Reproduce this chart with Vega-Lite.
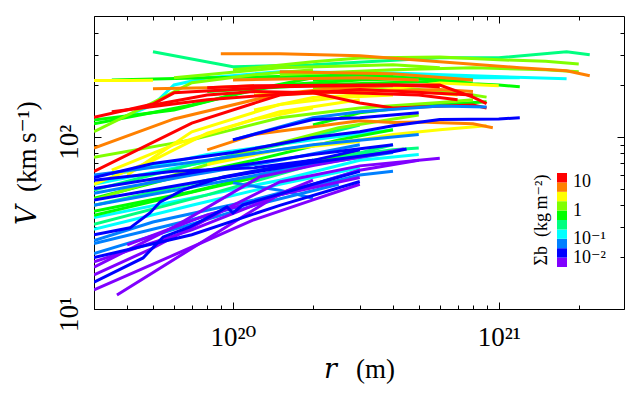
{
  "$schema": "https://vega.github.io/schema/vega-lite/v6.json",
  "width": 530,
  "height": 293,
  "autosize": "none",
  "padding": {"left": 94, "top": 16, "right": 16, "bottom": 88},
  "background": "white",
  "data": {"values": [
    {"c":"C1","s":-0.83,"r":3.5e19,"v":122},{"c":"C1","s":-0.83,"r":5e19,"v":153},{"c":"C1","s":-0.83,"r":6e19,"v":200},{"c":"C1","s":-0.83,"r":8e19,"v":220},{"c":"C1","s":-0.83,"r":1.5e20,"v":239},{"c":"C1","s":-0.83,"r":4e20,"v":235},{"c":"C1","s":-0.83,"r":8e20,"v":226},{"c":"C1","s":-0.83,"r":1.8e21,"v":217},
    {"c":"T2","s":-0.83,"r":1.5e20,"v":220},{"c":"T2","s":-0.83,"r":4e20,"v":226},{"c":"T2","s":-0.83,"r":8e20,"v":220},{"c":"T2","s":-0.83,"r":1.2e21,"v":220},
    {"c":"C2","s":-0.83,"r":3e19,"v":34},{"c":"C2","s":-0.83,"r":8e19,"v":46},{"c":"C2","s":-0.83,"r":1.5e20,"v":56},{"c":"C2","s":-0.83,"r":3e20,"v":73},{"c":"C2","s":-0.83,"r":5e20,"v":79},
    {"c":"C3","s":-0.83,"r":3e19,"v":53},{"c":"C3","s":-0.83,"r":7e19,"v":69},{"c":"C3","s":-0.83,"r":1.5e20,"v":84},{"c":"C3","s":-0.83,"r":3e20,"v":96},
    {"c":"C4","s":-0.83,"r":3.5e19,"v":60},{"c":"C4","s":-0.83,"r":8e19,"v":79},{"c":"C4","s":-0.83,"r":2e20,"v":96},{"c":"C4","s":-0.83,"r":4e20,"v":110},
    {"c":"M2","s":-0.83,"r":3e19,"v":29},{"c":"M2","s":-0.83,"r":7e19,"v":40},{"c":"M2","s":-0.83,"r":1.5e20,"v":53},{"c":"M2","s":-0.83,"r":3e20,"v":66},
    {"c":"SG1","s":-0.5,"r":5e19,"v":312},{"c":"SG1","s":-0.5,"r":1e20,"v":255},{"c":"SG1","s":-0.5,"r":2e20,"v":262},{"c":"SG1","s":-0.5,"r":6e20,"v":288},{"c":"SG1","s":-0.5,"r":1e21,"v":288},{"c":"SG1","s":-0.5,"r":1.8e21,"v":312},{"c":"SG1","s":-0.5,"r":2.2e21,"v":300},
    {"c":"SG2","s":-0.5,"r":3e19,"v":31},{"c":"SG2","s":-0.5,"r":8e19,"v":46},{"c":"SG2","s":-0.5,"r":2e20,"v":69},{"c":"SG2","s":-0.5,"r":4e20,"v":90},
    {"c":"SG3","s":-0.5,"r":3e19,"v":49},{"c":"SG3","s":-0.5,"r":7e19,"v":69},{"c":"SG3","s":-0.5,"r":1.5e20,"v":90},{"c":"SG3","s":-0.5,"r":3e20,"v":117},
    {"c":"M1","s":-0.5,"r":3e19,"v":40},{"c":"M1","s":-0.5,"r":8e19,"v":56},{"c":"M1","s":-0.5,"r":2e20,"v":73},{"c":"M1","s":-0.5,"r":4e20,"v":84},{"c":"M1","s":-0.5,"r":5e20,"v":86},
    {"c":"G1","s":-0.17,"r":3e19,"v":125},{"c":"G1","s":-0.17,"r":6e19,"v":143},{"c":"G1","s":-0.17,"r":1e20,"v":175},{"c":"G1","s":-0.17,"r":1.5e20,"v":200},{"c":"G1","s":-0.17,"r":3e20,"v":214},{"c":"G1","s":-0.17,"r":6e20,"v":220},
    {"c":"G2","s":-0.17,"r":2e20,"v":214},{"c":"G2","s":-0.17,"r":4e20,"v":223},{"c":"G2","s":-0.17,"r":6e20,"v":214},{"c":"G2","s":-0.17,"r":8e20,"v":203},{"c":"G2","s":-0.17,"r":1e21,"v":200},{"c":"G2","s":-0.17,"r":1.2e21,"v":195},
    {"c":"G3","s":-0.17,"r":2e20,"v":117},{"c":"G3","s":-0.17,"r":3e20,"v":138},{"c":"G3","s":-0.17,"r":5e20,"v":151},{"c":"G3","s":-0.17,"r":9e20,"v":160},
    {"c":"G4","s":-0.17,"r":3e19,"v":119},{"c":"G4","s":-0.17,"r":7e19,"v":153},{"c":"G4","s":-0.17,"r":1.2e20,"v":188},{"c":"G4","s":-0.17,"r":2e20,"v":220},{"c":"G4","s":-0.17,"r":3e20,"v":232},
    {"c":"G5","s":-0.17,"r":3e19,"v":44},{"c":"G5","s":-0.17,"r":6e19,"v":58},{"c":"G5","s":-0.17,"r":1.2e20,"v":73},{"c":"G5","s":-0.17,"r":2.5e20,"v":96},{"c":"G5","s":-0.17,"r":4e20,"v":110},
    {"c":"G6","s":-0.17,"r":3e19,"v":37},{"c":"G6","s":-0.17,"r":7e19,"v":48},{"c":"G6","s":-0.17,"r":1.5e20,"v":64},{"c":"G6","s":-0.17,"r":3e20,"v":84},
    {"c":"G7","s":-0.17,"r":3.5e19,"v":214},{"c":"G7","s":-0.17,"r":8e19,"v":220},{"c":"G7","s":-0.17,"r":2e20,"v":226},{"c":"G7","s":-0.17,"r":4e20,"v":229},
    {"c":"T1","s":-0.17,"r":8e19,"v":183},{"c":"T1","s":-0.17,"r":2e20,"v":200},{"c":"T1","s":-0.17,"r":5e20,"v":209},{"c":"T1","s":-0.17,"r":8e20,"v":214},
    {"c":"M3","s":-0.17,"r":3e19,"v":35},{"c":"M3","s":-0.17,"r":8e19,"v":50},{"c":"M3","s":-0.17,"r":2e20,"v":69},
    {"c":"YG1","s":0.17,"r":1e20,"v":245},{"c":"YG1","s":0.17,"r":2e20,"v":273},{"c":"YG1","s":0.17,"r":3e20,"v":287},{"c":"YG1","s":0.17,"r":6e20,"v":291},{"c":"YG1","s":0.17,"r":1e21,"v":280},{"c":"YG1","s":0.17,"r":1.5e21,"v":275},{"c":"YG1","s":0.17,"r":2e21,"v":265},
    {"c":"YG2","s":0.17,"r":1.5e20,"v":229},{"c":"YG2","s":0.17,"r":4e20,"v":245},{"c":"YG2","s":0.17,"r":8e20,"v":252},{"c":"YG2","s":0.17,"r":1.5e21,"v":245},{"c":"YG2","s":0.17,"r":2e21,"v":239},
    {"c":"YG3","s":0.17,"r":3e19,"v":107},{"c":"YG3","s":0.17,"r":5e19,"v":158},{"c":"YG3","s":0.17,"r":7e19,"v":206},{"c":"YG3","s":0.17,"r":1.2e20,"v":229},{"c":"YG3","s":0.17,"r":2e20,"v":245},
    {"c":"YG4","s":0.17,"r":3e19,"v":76},{"c":"YG4","s":0.17,"r":7e19,"v":96},{"c":"YG4","s":0.17,"r":1.5e20,"v":129},{"c":"YG4","s":0.17,"r":3e20,"v":147},{"c":"YG4","s":0.17,"r":6e20,"v":158},{"c":"YG4","s":0.17,"r":8e20,"v":164},
    {"c":"YG5","s":0.17,"r":3e19,"v":43},{"c":"YG5","s":0.17,"r":6e19,"v":60},{"c":"YG5","s":0.17,"r":1.2e20,"v":84},{"c":"YG5","s":0.17,"r":2.5e20,"v":113},{"c":"YG5","s":0.17,"r":5e20,"v":134},
    {"c":"YG6","s":0.17,"r":6e19,"v":220},{"c":"YG6","s":0.17,"r":1.5e20,"v":252},{"c":"YG6","s":0.17,"r":4e20,"v":262},{"c":"YG6","s":0.17,"r":6e20,"v":252},
    {"c":"T5","s":0.17,"r":2e20,"v":193},{"c":"T5","s":0.17,"r":5e20,"v":188},{"c":"T5","s":0.17,"r":8e20,"v":175},{"c":"T5","s":0.17,"r":9e20,"v":170},
    {"c":"Y1","s":0.5,"r":3e19,"v":212},{"c":"Y1","s":0.5,"r":4e19,"v":212},{"c":"Y1","s":0.5,"r":5e19,"v":213},
    {"c":"Y2","s":0.5,"r":2.5e20,"v":170},{"c":"Y2","s":0.5,"r":4e20,"v":190},{"c":"Y2","s":0.5,"r":6e20,"v":205},{"c":"Y2","s":0.5,"r":1e21,"v":198},
    {"c":"Y3","s":0.5,"r":2e20,"v":90},{"c":"Y3","s":0.5,"r":3e20,"v":96},{"c":"Y3","s":0.5,"r":4e20,"v":103},{"c":"Y3","s":0.5,"r":6e20,"v":110},{"c":"Y3","s":0.5,"r":9e20,"v":116},
    {"c":"Y4","s":0.5,"r":4e19,"v":60},{"c":"Y4","s":0.5,"r":7e19,"v":107},{"c":"Y4","s":0.5,"r":1.5e20,"v":154},{"c":"Y4","s":0.5,"r":2.5e20,"v":169},{"c":"Y4","s":0.5,"r":4e20,"v":175},
    {"c":"Y5","s":0.5,"r":1.2e20,"v":143},{"c":"Y5","s":0.5,"r":2e20,"v":169},{"c":"Y5","s":0.5,"r":3e20,"v":175},
    {"c":"Y6","s":0.5,"r":3e19,"v":53},{"c":"Y6","s":0.5,"r":5e19,"v":73},{"c":"Y6","s":0.5,"r":8e19,"v":105},{"c":"Y6","s":0.5,"r":1.5e20,"v":140},{"c":"Y6","s":0.5,"r":3e20,"v":164},
    {"c":"Y7","s":0.5,"r":3.5e19,"v":64},{"c":"Y7","s":0.5,"r":6e19,"v":90},{"c":"Y7","s":0.5,"r":1.2e20,"v":126},{"c":"Y7","s":0.5,"r":2e20,"v":147},
    {"c":"T3","s":0.5,"r":1.2e20,"v":175},{"c":"T3","s":0.5,"r":3e20,"v":188},{"c":"T3","s":0.5,"r":5e20,"v":183},{"c":"T3","s":0.5,"r":7e20,"v":175},
    {"c":"M6","s":0.5,"r":8e19,"v":69},{"c":"M6","s":0.5,"r":1.5e20,"v":84},{"c":"M6","s":0.5,"r":3e20,"v":94},
    {"c":"O1","s":0.83,"r":9e19,"v":304},{"c":"O1","s":0.83,"r":1.5e20,"v":304},{"c":"O1","s":0.83,"r":3e20,"v":296},{"c":"O1","s":0.83,"r":6e20,"v":273},{"c":"O1","s":0.83,"r":1.2e21,"v":252},{"c":"O1","s":0.83,"r":1.8e21,"v":242},{"c":"O1","s":0.83,"r":2.2e21,"v":226},
    {"c":"O2","s":0.83,"r":3e19,"v":86},{"c":"O2","s":0.83,"r":6e19,"v":127},{"c":"O2","s":0.83,"r":1.5e20,"v":178},{"c":"O2","s":0.83,"r":2.5e20,"v":192},{"c":"O2","s":0.83,"r":4e20,"v":198},
    {"c":"O3","s":0.83,"r":5e19,"v":190},{"c":"O3","s":0.83,"r":8e19,"v":193},{"c":"O3","s":0.83,"r":1.2e20,"v":198},
    {"c":"O4","s":0.83,"r":8e19,"v":84},{"c":"O4","s":0.83,"r":1.2e20,"v":103},{"c":"O4","s":0.83,"r":3e20,"v":124},{"c":"O4","s":0.83,"r":4e20,"v":121},{"c":"O4","s":0.83,"r":5e20,"v":122},{"c":"O4","s":0.83,"r":8e20,"v":119},{"c":"O4","s":0.83,"r":9.5e20,"v":113},
    {"c":"O5","s":0.83,"r":1.2e20,"v":174},{"c":"O5","s":0.83,"r":3e20,"v":183},{"c":"O5","s":0.83,"r":6e20,"v":188},{"c":"O5","s":0.83,"r":8e20,"v":183},
    {"c":"O6","s":0.83,"r":1.5e20,"v":239},{"c":"O6","s":0.83,"r":4e20,"v":232},{"c":"O6","s":0.83,"r":8e20,"v":214},
    {"c":"T4","s":0.83,"r":1e20,"v":214},{"c":"T4","s":0.83,"r":3e20,"v":220},{"c":"T4","s":0.83,"r":5e20,"v":214},
    {"c":"R1","s":1.17,"r":3e19,"v":130},{"c":"R1","s":1.17,"r":5e19,"v":155},{"c":"R1","s":1.17,"r":6e19,"v":180},{"c":"R1","s":1.17,"r":1.5e20,"v":195},{"c":"R1","s":1.17,"r":4e20,"v":200},{"c":"R1","s":1.17,"r":6e20,"v":195},
    {"c":"R2","s":1.17,"r":3e19,"v":63},{"c":"R2","s":1.17,"r":7e19,"v":120},{"c":"R2","s":1.17,"r":1.5e20,"v":175},{"c":"R2","s":1.17,"r":3e20,"v":188},{"c":"R2","s":1.17,"r":8e20,"v":175},
    {"c":"R3","s":1.17,"r":5e19,"v":153},{"c":"R3","s":1.17,"r":8e19,"v":175},{"c":"R3","s":1.17,"r":1.2e20,"v":183},{"c":"R3","s":1.17,"r":2e20,"v":180},{"c":"R3","s":1.17,"r":3e20,"v":157},{"c":"R3","s":1.17,"r":4e20,"v":147},{"c":"R3","s":1.17,"r":5e20,"v":149},{"c":"R3","s":1.17,"r":8e20,"v":153},{"c":"R3","s":1.17,"r":9e20,"v":147},
    {"c":"R4","s":1.17,"r":8e19,"v":193},{"c":"R4","s":1.17,"r":1.2e20,"v":198},{"c":"R4","s":1.17,"r":3e20,"v":200},{"c":"R4","s":1.17,"r":6e20,"v":200},{"c":"R4","s":1.17,"r":8e20,"v":170},{"c":"R4","s":1.17,"r":9e20,"v":156},
    {"c":"R5","s":1.17,"r":3.5e19,"v":140},{"c":"R5","s":1.17,"r":8e19,"v":164},{"c":"R5","s":1.17,"r":2e20,"v":183},{"c":"R5","s":1.17,"r":5e20,"v":175},{"c":"R5","s":1.17,"r":7e20,"v":164},
    {"c":"A1","s":-1.17,"r":1e20,"v":96},{"c":"A1","s":-1.17,"r":2e20,"v":129},{"c":"A1","s":-1.17,"r":3e20,"v":140},{"c":"A1","s":-1.17,"r":6e20,"v":151},{"c":"A1","s":-1.17,"r":9e20,"v":149},
    {"c":"A2","s":-1.17,"r":3e19,"v":25},{"c":"A2","s":-1.17,"r":5e19,"v":32},{"c":"A2","s":-1.17,"r":1.2e20,"v":43},{"c":"A2","s":-1.17,"r":2e20,"v":53},{"c":"A2","s":-1.17,"r":3e20,"v":64},
    {"c":"A3","s":-1.17,"r":3e19,"v":21},{"c":"A3","s":-1.17,"r":6e19,"v":29},{"c":"A3","s":-1.17,"r":1.2e20,"v":40},{"c":"A3","s":-1.17,"r":2.5e20,"v":53},
    {"c":"A4","s":-1.17,"r":1e20,"v":54},{"c":"A4","s":-1.17,"r":1.5e20,"v":49},{"c":"A4","s":-1.17,"r":2e20,"v":44},
    {"c":"A5","s":-1.17,"r":3e19,"v":40},{"c":"A5","s":-1.17,"r":8e19,"v":53},{"c":"A5","s":-1.17,"r":2e20,"v":69},{"c":"A5","s":-1.17,"r":4e20,"v":81},
    {"c":"A6","s":-1.17,"r":3e19,"v":60},{"c":"A6","s":-1.17,"r":8e19,"v":73},{"c":"A6","s":-1.17,"r":2e20,"v":90},{"c":"A6","s":-1.17,"r":5e20,"v":103},
    {"c":"A7","s":-1.17,"r":3e19,"v":47},{"c":"A7","s":-1.17,"r":7e19,"v":60},{"c":"A7","s":-1.17,"r":1.5e20,"v":73},{"c":"A7","s":-1.17,"r":3e20,"v":90},
    {"c":"M4","s":-1.17,"r":3e19,"v":24},{"c":"M4","s":-1.17,"r":7e19,"v":33},{"c":"M4","s":-1.17,"r":1.5e20,"v":46},{"c":"M4","s":-1.17,"r":3e20,"v":60},{"c":"M4","s":-1.17,"r":4e20,"v":63},
    {"c":"V1","s":-1.83,"r":3.66e19,"v":12.05},{"c":"V1","s":-1.83,"r":1e20,"v":31.7},{"c":"V1","s":-1.83,"r":1.5e20,"v":46.6},{"c":"V1","s":-1.83,"r":2e20,"v":56},
    {"c":"V2","s":-1.83,"r":3e19,"v":15.8},{"c":"V2","s":-1.83,"r":5e19,"v":22.6},{"c":"V2","s":-1.83,"r":1e20,"v":40},{"c":"V2","s":-1.83,"r":1.5e20,"v":54.7},{"c":"V2","s":-1.83,"r":3e20,"v":67.8},{"c":"V2","s":-1.83,"r":6e20,"v":75},
    {"c":"V3","s":-1.83,"r":3e19,"v":17.5},{"c":"V3","s":-1.83,"r":6e19,"v":30},{"c":"V3","s":-1.83,"r":1.26e20,"v":58.5},{"c":"V3","s":-1.83,"r":2e20,"v":68},{"c":"V3","s":-1.83,"r":4.4e20,"v":85},
    {"c":"V4","s":-1.83,"r":3e19,"v":12.9},{"c":"V4","s":-1.83,"r":6e19,"v":20.6},{"c":"V4","s":-1.83,"r":1.2e20,"v":33},{"c":"V4","s":-1.83,"r":2e20,"v":43},{"c":"V4","s":-1.83,"r":3e20,"v":53},
    {"c":"V5","s":-1.83,"r":3e19,"v":18.8},{"c":"V5","s":-1.83,"r":7e19,"v":28.8},{"c":"V5","s":-1.83,"r":1.5e20,"v":46},{"c":"V5","s":-1.83,"r":3e20,"v":64},{"c":"V5","s":-1.83,"r":5e20,"v":73},
    {"c":"V6","s":-1.83,"r":4e19,"v":23.6},{"c":"V6","s":-1.83,"r":8e19,"v":35.2},{"c":"V6","s":-1.83,"r":1.5e20,"v":46},{"c":"V6","s":-1.83,"r":3e20,"v":58},
    {"c":"B1","s":-1.5,"r":3e19,"v":58},{"c":"B1","s":-1.5,"r":5e19,"v":70},{"c":"B1","s":-1.5,"r":1e20,"v":81},{"c":"B1","s":-1.5,"r":2e20,"v":99},{"c":"B1","s":-1.5,"r":3e20,"v":107},{"c":"B1","s":-1.5,"r":4e20,"v":116},{"c":"B1","s":-1.5,"r":6e20,"v":126},{"c":"B1","s":-1.5,"r":1e21,"v":127},{"c":"B1","s":-1.5,"r":1.2e21,"v":129},
    {"c":"B2","s":-1.5,"r":3e19,"v":56},{"c":"B2","s":-1.5,"r":6e19,"v":63},{"c":"B2","s":-1.5,"r":1.2e20,"v":66},{"c":"B2","s":-1.5,"r":2e20,"v":73},{"c":"B2","s":-1.5,"r":3e20,"v":84},
    {"c":"B3","s":-1.5,"r":3e19,"v":27},{"c":"B3","s":-1.5,"r":4.1e19,"v":29.6},{"c":"B3","s":-1.5,"r":4.87e19,"v":36.1},{"c":"B3","s":-1.5,"r":5.32e19,"v":41.9},{"c":"B3","s":-1.5,"r":6.49e19,"v":49.2},{"c":"B3","s":-1.5,"r":9.17e19,"v":58.5},{"c":"B3","s":-1.5,"r":2e20,"v":73},
    {"c":"B4","s":-1.5,"r":3e19,"v":14.3},{"c":"B4","s":-1.5,"r":4.59e19,"v":19.8},{"c":"B4","s":-1.5,"r":5.46e19,"v":26.2},{"c":"B4","s":-1.5,"r":6.89e19,"v":30},{"c":"B4","s":-1.5,"r":8.41e19,"v":35.2},{"c":"B4","s":-1.5,"r":9.49e19,"v":39.2},{"c":"B4","s":-1.5,"r":1e20,"v":36.1},{"c":"B4","s":-1.5,"r":1.09e20,"v":40.3},{"c":"B4","s":-1.5,"r":1.38e20,"v":44.8},{"c":"B4","s":-1.5,"r":2e20,"v":53},{"c":"B4","s":-1.5,"r":3e20,"v":63},
    {"c":"B5","s":-1.5,"r":3e19,"v":43},{"c":"B5","s":-1.5,"r":8e19,"v":56},{"c":"B5","s":-1.5,"r":2e20,"v":71},{"c":"B5","s":-1.5,"r":4e20,"v":82},{"c":"B5","s":-1.5,"r":4.5e20,"v":85},
    {"c":"B6","s":-1.5,"r":1e20,"v":96},{"c":"B6","s":-1.5,"r":1.5e20,"v":113},{"c":"B6","s":-1.5,"r":2e20,"v":126},{"c":"B6","s":-1.5,"r":3e20,"v":129},{"c":"B6","s":-1.5,"r":5e20,"v":138},
    {"c":"B7","s":-1.5,"r":3e19,"v":50},{"c":"B7","s":-1.5,"r":8e19,"v":64},{"c":"B7","s":-1.5,"r":2e20,"v":79},{"c":"B7","s":-1.5,"r":4e20,"v":90},
    {"c":"M5","s":-1.5,"r":3e19,"v":19.9},{"c":"M5","s":-1.5,"r":7e19,"v":27},{"c":"M5","s":-1.5,"r":1.5e20,"v":40},{"c":"M5","s":-1.5,"r":3e20,"v":55}
  ]},
  "resolve": {"axis": {"x": "independent", "y": "independent"}},
  "layer": [
    {
      "mark": {"type": "line", "strokeWidth": 3, "clip": true},
      "encoding": {
        "x": {"field": "r", "type": "quantitative",
          "scale": {"type": "log", "domain": [3e19, 2.96e21], "nice": false},
          "axis": {"orient": "bottom", "title": "𝑟\u2002\u2009(m)", "ticks": false, "tickSize": 0,
            "values": [1e20, 1e21],
            "labelExpr": "datum.value == 1e20 ? '10²⁰' : datum.value == 1e21 ? '10²¹' : ''",
            "labelPadding": 15, "labelBaseline": "top", "labelFontSize": 27, "titleFontSize": 27, "titlePadding": 6}},
        "y": {"field": "v", "type": "quantitative",
          "scale": {"type": "log", "domain": [10, 503], "nice": false},
          "axis": {"orient": "left", "title": "𝑉\u2002(km\u2009s⁻¹)", "ticks": false, "tickSize": 0,
            "values": [10, 100],
            "labelExpr": "datum.value == 10 ? '10¹' : datum.value == 100 ? '10²' : ''",
            "labelAngle": 270, "labelAlign": "center", "labelBaseline": "alphabetic", "labelOffset": 5,
            "labelPadding": 17, "labelFontSize": 27, "titleFontSize": 27, "titlePadding": 14}},
        "detail": {"field": "c"},
        "color": {"field": "s", "type": "quantitative",
          "scale": {"type": "threshold",
            "domain": [-1.6667, -1.3333, -1, -0.6667, -0.3333, 0, 0.3333, 0.6667, 1],
            "range": ["#8000ff", "#0000ff", "#0080ff", "#00ffff", "#00ff80", "#00ff00", "#80ff00", "#ffff00", "#ff8000", "#ff0000"]},
          "legend": {"type": "gradient", "direction": "vertical", "orient": "none", "legendX": 439, "legendY": 157,
            "gradientLength": 94, "gradientThickness": 10, "gradientStrokeWidth": 0,
            "title": "Σb\u2002(kg\u2009m⁻²)", "titleOrient": "left", "titleAngle": 270, "titleAnchor": "middle",
            "titleFont": "'Liberation Serif', 'DejaVu Serif', serif", "titleFontSize": 18, "titleFontWeight": "normal", "titleColor": "black",
            "labelExpr": "datum.value == 1 ? '10' : datum.value == 0 ? '1' : datum.value == -1 ? '10⁻¹' : datum.value <= -1.99 ? '10⁻²' : ''",
            "labelFont": "'Liberation Serif', 'DejaVu Serif', serif", "labelFontSize": 18, "labelColor": "black", "labelOverlap": false, "labelOffset": 6}}
      }
    },
    {
      "mark": {"type": "point", "opacity": 0},
      "encoding": {
        "x": {"field": "r", "type": "quantitative",
          "axis": {"orient": "top", "title": null, "labels": false,
            "values": [3e19,4e19,5e19,6e19,7e19,8e19,9e19,1e20,2e20,3e20,4e20,5e20,6e20,7e20,8e20,9e20,1e21,2e21],
            "tickSize": {"condition": {"test": "datum.value == 1e20 || datum.value == 1e21", "value": -7}, "value": -4}}},
        "y": {"field": "v", "type": "quantitative",
          "axis": {"orient": "right", "title": null, "labels": false,
            "values": [10,20,30,40,50,60,70,80,90,100,200,300,400],
            "tickSize": {"condition": {"test": "datum.value == 10 || datum.value == 100", "value": -7}, "value": -4}}}
      }
    },
    {
      "mark": {"type": "point", "opacity": 0},
      "encoding": {
        "x": {"field": "r", "type": "quantitative",
          "axis": {"orient": "bottom", "title": null, "labels": false,
            "values": [3e19,4e19,5e19,6e19,7e19,8e19,9e19,1e20,2e20,3e20,4e20,5e20,6e20,7e20,8e20,9e20,1e21,2e21],
            "tickSize": {"condition": {"test": "datum.value == 1e20 || datum.value == 1e21", "value": -7}, "value": -4}}},
        "y": {"field": "v", "type": "quantitative",
          "axis": {"orient": "left", "title": null, "labels": false,
            "values": [10,20,30,40,50,60,70,80,90,100,200,300,400],
            "tickSize": {"condition": {"test": "datum.value == 10 || datum.value == 100", "value": -7}, "value": -4}}}
      }
    }
  ],
  "config": {
    "view": {"stroke": "black", "strokeWidth": 1},
    "axis": {"domain": false, "grid": false, "tickColor": "black", "tickWidth": 1, "labelColor": "black", "titleColor": "black",
      "labelFont": "'Liberation Serif', 'DejaVu Serif', serif", "titleFont": "'Liberation Serif', 'DejaVu Serif', serif", "titleFontWeight": "normal"}
  }
}
